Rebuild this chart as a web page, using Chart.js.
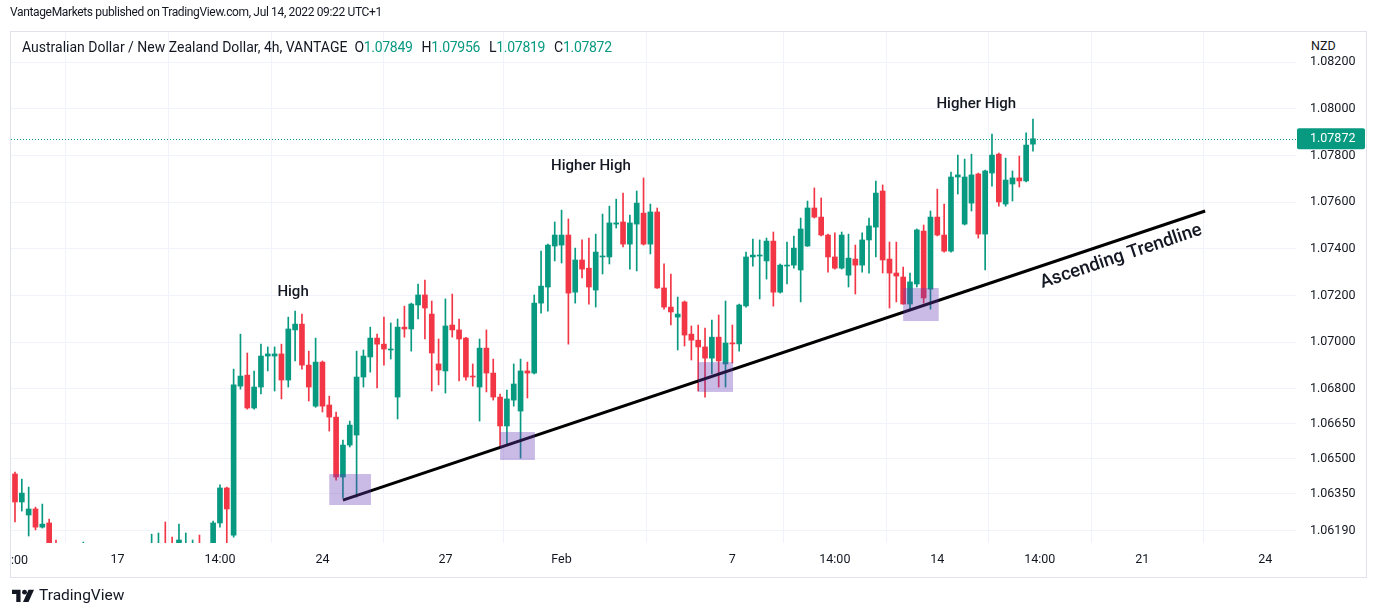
<!DOCTYPE html>
<html lang="en">
<head>
<meta charset="UTF-8">
<title>AUD/NZD 4h - TradingView</title>
<script src="https://cdn.jsdelivr.net/npm/chart.js"></script>
<style>
  body { margin: 0; background: #fff; font-family: Roboto, 'Noto Sans', sans-serif; color: #131722; }
  #wrap { position: relative; width: 1378px; height: 616px; overflow: hidden; }
  #chart { position: absolute; left: 0; top: 0; }
  .frame { position: absolute; left: 10px; top: 31px; width: 1355px; height: 545px; border: 1px solid #e0e3eb; pointer-events: none; }
  .pub { position: absolute; left: 10px; top: 5px; font-size: 12px; letter-spacing: -0.35px; white-space: nowrap; }
  .legend { position: absolute; left: 22px; top: 39px; font-size: 14px; white-space: nowrap; }
  .legend .ohlc { letter-spacing: -0.3px; margin-left: 7px; }
  .legend .v { color: #089981; margin-right: 9px; }
  .nzd { position: absolute; left: 1311px; top: 37px; font-size: 12.5px; background: #fff; padding: 1px 0 2px; }
  .firstTick { position: absolute; left: 11px; top: 552px; font-size: 12.5px; }
  .logo { position: absolute; left: 12px; top: 586px; display: flex; align-items: center; gap: 5px; font-size: 15.5px; }
</style>
</head>
<body>
<div id="wrap">
  <canvas id="chart" width="1378" height="616"></canvas>
  <div class="frame"></div>
  <div class="pub">VantageMarkets published on TradingView.com, Jul 14, 2022 09:22 UTC+1</div>
  <div class="legend">Australian Dollar / New Zealand Dollar, 4h, VANTAGE<span class="ohlc">O<span class="v">1.07849</span>H<span class="v">1.07956</span>L<span class="v">1.07819</span>C<span class="v">1.07872</span></span></div>
  <div class="nzd">NZD</div>
  <div class="firstTick">:00</div>
  <div class="logo">
    <svg width="22" height="13" viewBox="0 0 36 21">
      <path d="M14 21H7V8H0V1h14z" fill="#131722"/>
      <circle cx="20.5" cy="5" r="4" fill="#131722"/>
      <path d="M27 1h9l-9 20h-9z" fill="#131722"/>
    </svg>
    <span>TradingView</span>
  </div>
</div>
<script>
// 4h candles, AUDNZD (index 0 = first candle on the left)
const opens = [
  1.06434,1.06314,1.06258,1.06284,1.06206,1.06224,1.06108,1.06065,1.06090,1.06060,
  1.06035,1.06110,1.06070,1.06020,1.06040,1.06010,1.06030,1.06070,1.06050,1.06060,
  1.06100,1.06125,1.06130,1.06090,1.06080,1.06100,1.06090,1.06125,1.06080,1.06065,
  1.06224,1.06374,1.06172,1.06811,1.06858,1.06717,1.06807,1.06940,1.06940,1.06949,
  1.06837,1.07052,1.07077,1.06901,1.06725,1.06914,1.06730,1.06678,1.06421,1.06558,
  1.06601,1.06850,1.06936,1.07017,1.06991,1.06966,1.06764,1.07064,1.07056,1.07159,
  1.07202,1.07120,1.06906,1.06876,1.07073,1.07052,1.07017,1.06854,1.06807,1.06974,
  1.06867,1.06764,1.06640,1.06751,1.06704,1.06876,1.06867,1.07167,1.07236,1.07412,
  1.07416,1.07459,1.07214,1.07352,1.07317,1.07223,1.07365,1.07365,1.07506,1.07515,
  1.07420,1.07506,1.07553,1.07420,1.07558,1.07232,1.07150,1.07107,1.07172,1.07034,
  1.07008,1.06979,1.06931,1.07021,1.06906,1.06996,1.06992,1.07155,1.07365,1.07369,
  1.07348,1.07433,1.07214,1.07326,1.07330,1.07309,1.07412,1.07575,1.07536,1.07459,
  1.07365,1.07317,1.07287,1.07356,1.07330,1.07438,1.07493,1.07648,1.07356,1.07296,
  1.07279,1.07163,1.07249,1.07476,1.07227,1.07536,1.07459,1.07390,1.07708,1.07506,
  1.07596,1.07721,1.07463,1.07725,1.07806,1.07592,1.07678,1.07704,1.07691,1.07849
];
const highs = [
  1.06442,1.06412,1.06378,1.06292,1.06305,1.06241,1.06151,1.06120,1.06125,1.06100,
  1.06142,1.06130,1.06095,1.06060,1.06080,1.06050,1.06090,1.06110,1.06085,1.06120,
  1.06176,1.06181,1.06228,1.06163,1.06219,1.06181,1.06151,1.06172,1.06130,1.06232,
  1.06387,1.06378,1.06884,1.07034,1.06953,1.06876,1.06991,1.06979,1.06979,1.06991,
  1.07107,1.07133,1.07120,1.06961,1.07017,1.06919,1.06768,1.06700,1.06580,1.06661,
  1.06961,1.06966,1.07064,1.07034,1.07107,1.07082,1.07099,1.07154,1.07167,1.07249,
  1.07266,1.07176,1.07013,1.07185,1.07206,1.07099,1.07020,1.06906,1.07013,1.07052,
  1.06927,1.06777,1.06794,1.06906,1.06927,1.06914,1.07202,1.07390,1.07420,1.07515,
  1.07566,1.07528,1.07403,1.07438,1.07446,1.07463,1.07549,1.07583,1.07613,1.07639,
  1.07545,1.07648,1.07704,1.07592,1.07575,1.07335,1.07292,1.07193,1.07176,1.07069,
  1.07073,1.07060,1.07094,1.07116,1.07176,1.07073,1.07163,1.07386,1.07442,1.07438,
  1.07446,1.07472,1.07335,1.07429,1.07455,1.07532,1.07605,1.07661,1.07618,1.07463,
  1.07468,1.07472,1.07463,1.07416,1.07468,1.07532,1.07691,1.07674,1.07429,1.07429,
  1.07322,1.07296,1.07485,1.07502,1.07562,1.07656,1.07592,1.07729,1.07802,1.07785,
  1.07806,1.07725,1.07738,1.07892,1.07811,1.07789,1.07734,1.07798,1.07897,1.07956
];
const lows = [
  1.06228,1.06275,1.06168,1.06194,1.06202,1.06086,1.06043,1.06020,1.06045,1.06010,
  1.06020,1.06050,1.06000,1.05970,1.05990,1.05960,1.06000,1.06030,1.06010,1.06040,
  1.06080,1.06100,1.06060,1.06040,1.06060,1.06090,1.06070,1.06040,1.06030,1.06050,
  1.06206,1.06086,1.06163,1.06798,1.06712,1.06712,1.06777,1.06876,1.06790,1.06756,
  1.06807,1.06919,1.06884,1.06747,1.06720,1.06700,1.06618,1.06408,1.06331,1.06550,
  1.06335,1.06807,1.06871,1.06803,1.06901,1.06927,1.06670,1.07021,1.06961,1.07099,
  1.07013,1.06790,1.06816,1.06781,1.07021,1.06833,1.06837,1.06811,1.06661,1.06786,
  1.06751,1.06554,1.06558,1.06725,1.06502,1.06760,1.06863,1.07124,1.07133,1.07348,
  1.07339,1.06991,1.07167,1.07275,1.07163,1.07150,1.07292,1.07335,1.07489,1.07408,
  1.07313,1.07305,1.07416,1.07378,1.07230,1.07141,1.07073,1.06966,1.06983,1.06923,
  1.06790,1.06764,1.06863,1.06807,1.06807,1.06910,1.06961,1.07150,1.07326,1.07185,
  1.07270,1.07154,1.07210,1.07249,1.07317,1.07172,1.07410,1.07532,1.07455,1.07300,
  1.07313,1.07313,1.07236,1.07206,1.07300,1.07296,1.07365,1.07296,1.07146,1.07172,
  1.07163,1.07137,1.07236,1.07167,1.07141,1.07455,1.07386,1.07386,1.07635,1.07502,
  1.07562,1.07446,1.07309,1.07669,1.07583,1.07583,1.07605,1.07665,1.07687,1.07819
];
const closes = [
  1.06314,1.06352,1.06284,1.06206,1.06219,1.06108,1.06065,1.06090,1.06060,1.06035,
  1.06110,1.06070,1.06020,1.06040,1.06010,1.06030,1.06070,1.06050,1.06060,1.06100,
  1.06125,1.06130,1.06090,1.06070,1.06151,1.06130,1.06125,1.06080,1.06110,1.06224,
  1.06374,1.06284,1.06816,1.06854,1.06717,1.06807,1.06940,1.06949,1.06949,1.06837,
  1.07056,1.07077,1.06901,1.06807,1.06914,1.06725,1.06678,1.06421,1.06558,1.06644,
  1.06850,1.06940,1.07017,1.06991,1.06970,1.06970,1.07064,1.07056,1.07163,1.07202,
  1.07146,1.06953,1.06880,1.07069,1.07052,1.07013,1.06850,1.06850,1.06974,1.06867,
  1.06764,1.06640,1.06756,1.06820,1.06876,1.06867,1.07167,1.07240,1.07416,1.07459,
  1.07459,1.07210,1.07352,1.07313,1.07236,1.07386,1.07369,1.07511,1.07511,1.07420,
  1.07511,1.07596,1.07420,1.07558,1.07232,1.07150,1.07129,1.07120,1.07030,1.07008,
  1.06979,1.06931,1.07021,1.06919,1.06996,1.06992,1.07159,1.07365,1.07373,1.07373,
  1.07433,1.07214,1.07330,1.07330,1.07403,1.07485,1.07575,1.07536,1.07459,1.07365,
  1.07317,1.07459,1.07360,1.07330,1.07438,1.07498,1.07639,1.07352,1.07296,1.07283,
  1.07163,1.07258,1.07481,1.07189,1.07536,1.07459,1.07390,1.07708,1.07717,1.07708,
  1.07717,1.07463,1.07734,1.07802,1.07601,1.07695,1.07704,1.07691,1.07845,1.07872
];

// time axis labels (candle index where each label sits); the clipped ':00' at the left edge is an html label
const xTickPos = [-0.3, 15, 30, 45, 63, 80, 105, 120, 135, 150, 165, 183];
const xTickLabels = ['', '17', '14:00', '24', '27', 'Feb', '7', '14:00', '14', '14:00', '21', '24'];

// price axis labels
const yTicks = [1.082, 1.080, 1.078, 1.076, 1.074, 1.072, 1.070, 1.068, 1.0665, 1.065, 1.0635, 1.0619];

// drawings on the chart (index / price units)
const trendPoints = [{x: 48.0, y: 1.06322}, {x: 174.2, y: 1.07562}];
const boxes = [
  {x0: 46.0, x1: 52.1, y0: 1.06301, y1: 1.06434},
  {x0: 71.0, x1: 76.1, y0: 1.06494, y1: 1.06614},
  {x0: 100.0, x1: 105.1, y0: 1.06786, y1: 1.06914},
  {x0: 130.0, x1: 135.2, y0: 1.07090, y1: 1.07232}
];
const notes = [
  {text: 'High', x: 40.7, y: 1.07215},
  {text: 'Higher High', x: 84.3, y: 1.07755},
  {text: 'Higher High', x: 140.7, y: 1.08021}
];
const trendNote = {text: 'Ascending Trendline', x: 161.9, y: 1.07366};

const UP = '#089981', DOWN = '#f23645';
const lastClose = closes[closes.length - 1];
const candleColors = closes.map((c, i) => c >= opens[i] ? UP : DOWN);

// plugin: boxes, text notes, last price line and price tag
const drawings = {
  id: 'drawings',
  beforeDatasetsDraw(chart) {
    const {ctx, chartArea: a, scales: {y}} = chart;
    const py = Math.round(y.getPixelForValue(lastClose)) + 0.5;
    ctx.save();
    ctx.strokeStyle = UP;
    ctx.lineWidth = 1;
    ctx.setLineDash([1, 2]);
    ctx.beginPath();
    ctx.moveTo(a.left, py);
    ctx.lineTo(a.right, py);
    ctx.stroke();
    ctx.restore();
  },
  afterDatasetsDraw(chart) {
    const {ctx, scales: {x, y}} = chart;
    ctx.save();
    ctx.fillStyle = 'rgba(103, 58, 183, 0.35)';
    boxes.forEach(b => {
      const l = x.getPixelForValue(b.x0), r = x.getPixelForValue(b.x1);
      const t = y.getPixelForValue(b.y1), btm = y.getPixelForValue(b.y0);
      ctx.fillRect(l, t, r - l, btm - t);
    });
    ctx.fillStyle = '#131722';
    ctx.textAlign = 'center';
    ctx.textBaseline = 'middle';
    ctx.font = '500 15px Roboto, "Noto Sans", sans-serif';
    notes.forEach(n => ctx.fillText(n.text, x.getPixelForValue(n.x), y.getPixelForValue(n.y)));
    // rotated label along the trendline
    const x1 = x.getPixelForValue(trendPoints[0].x), y1 = y.getPixelForValue(trendPoints[0].y);
    const x2 = x.getPixelForValue(trendPoints[1].x), y2 = y.getPixelForValue(trendPoints[1].y);
    ctx.translate(x.getPixelForValue(trendNote.x), y.getPixelForValue(trendNote.y));
    ctx.rotate(Math.atan2(y2 - y1, x2 - x1));
    ctx.font = '500 18.5px Roboto, "Noto Sans", sans-serif';
    ctx.fillText(trendNote.text, 0, 0);
    ctx.restore();
  },
  afterDraw(chart) {
    const {ctx, chartArea: a, scales: {y}} = chart;
    const py = y.getPixelForValue(lastClose);
    ctx.save();
    ctx.fillStyle = UP;
    ctx.beginPath();
    ctx.roundRect(a.right + 1, py - 10.5, 68, 21, 2);
    ctx.fill();
    ctx.fillStyle = '#fff';
    ctx.font = '12.5px Roboto, "Noto Sans", sans-serif';
    ctx.textBaseline = 'middle';
    ctx.textAlign = 'left';
    ctx.fillText(lastClose.toFixed(5), a.right + 14, py);
    ctx.restore();
  }
};

const ctx = document.getElementById('chart').getContext('2d');
new Chart(ctx, {
  type: 'bar',
  data: {
    datasets: [{
      label: 'trend',
      type: 'line',
      data: trendPoints,
      borderColor: '#000',
      borderWidth: 3,
      pointRadius: 0,
      order: 0
    }, {
      label: 'bodies',
      data: opens.map((o, i) => ({x: i, y: [o, closes[i]]})),
      backgroundColor: candleColors,
      barThickness: 5,
      minBarLength: 1,
      grouped: false,
      order: 1
    }, {
      label: 'wicks',
      data: lows.map((l, i) => ({x: i, y: [l, highs[i]]})),
      backgroundColor: candleColors,
      barThickness: 1,
      grouped: false,
      order: 2
    }]
  },
  options: {
    responsive: false,
    animation: false,
    layout: {padding: {left: 11, top: 32, right: 12, bottom: 40}},
    plugins: {legend: {display: false}, tooltip: {enabled: false}},
    scales: {
      x: {
        type: 'linear',
        min: -0.585,
        max: 187.5,
        offset: false,
        afterBuildTicks: s => { s.ticks = xTickPos.map(v => ({value: v})); },
        afterFit: s => { s.height = 33; },
        ticks: {
          autoSkip: false,
          maxRotation: 0,
          padding: 9,
          color: '#131722',
          font: {family: 'Roboto, "Noto Sans", sans-serif', size: 12.5},
          callback: (v, i) => xTickLabels[i]
        },
        grid: {color: '#f0f3fa', drawTicks: false},
        border: {display: false}
      },
      y: {
        position: 'right',
        min: 1.06138,
        max: 1.0833,
        afterBuildTicks: s => { s.ticks = yTicks.map(v => ({value: v})); },
        afterFit: s => { s.width = 70; },
        ticks: {
          padding: 14,
          color: '#131722',
          font: {family: 'Roboto, "Noto Sans", sans-serif', size: 12.5},
          callback: v => v.toFixed(5)
        },
        grid: {color: '#f0f3fa', drawTicks: false},
        border: {display: false}
      }
    }
  },
  plugins: [drawings]
});
</script>
</body>
</html>
